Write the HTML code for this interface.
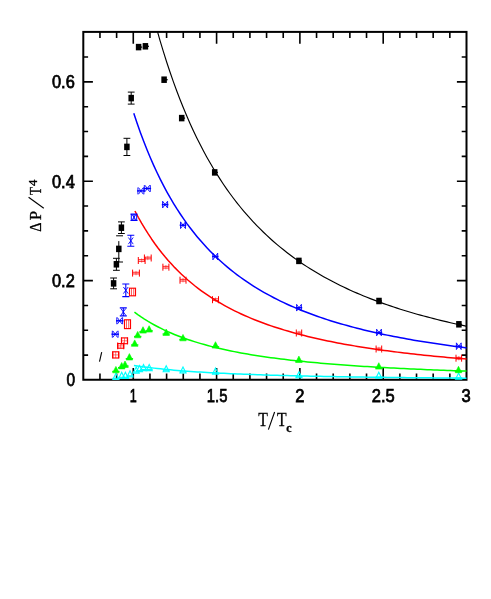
<!DOCTYPE html>
<html><head><meta charset="utf-8"><title>plot</title>
<style>
html,body{margin:0;padding:0;background:#fff;}
body{width:491px;height:599px;overflow:hidden;font-family:"Liberation Sans",sans-serif;}
svg{display:block;will-change:transform;}
text{fill:#000;}
</style></head>
<body>
<svg width="491" height="599" viewBox="0 0 491 599">
<defs><clipPath id="cp"><rect x="83.3" y="31.9" width="383.2" height="348.9"/></clipPath></defs>
<rect width="491" height="599" fill="#fff"/>
<path d="M99.96,379.75 V373.55 M99.96,31.90 V38.10 M116.62,379.75 V373.55 M116.62,31.90 V38.10 M133.28,379.75 V367.95 M133.28,31.90 V43.70 M149.94,379.75 V373.55 M149.94,31.90 V38.10 M166.60,379.75 V373.55 M166.60,31.90 V38.10 M183.27,379.75 V373.55 M183.27,31.90 V38.10 M199.93,379.75 V373.55 M199.93,31.90 V38.10 M216.59,379.75 V367.95 M216.59,31.90 V43.70 M233.25,379.75 V373.55 M233.25,31.90 V38.10 M249.91,379.75 V373.55 M249.91,31.90 V38.10 M266.57,379.75 V373.55 M266.57,31.90 V38.10 M283.23,379.75 V373.55 M283.23,31.90 V38.10 M299.89,379.75 V367.95 M299.89,31.90 V43.70 M316.55,379.75 V373.55 M316.55,31.90 V38.10 M333.21,379.75 V373.55 M333.21,31.90 V38.10 M349.87,379.75 V373.55 M349.87,31.90 V38.10 M366.53,379.75 V373.55 M366.53,31.90 V38.10 M383.20,379.75 V367.95 M383.20,31.90 V43.70 M399.86,379.75 V373.55 M399.86,31.90 V38.10 M416.52,379.75 V373.55 M416.52,31.90 V38.10 M433.18,379.75 V373.55 M433.18,31.90 V38.10 M449.84,379.75 V373.55 M449.84,31.90 V38.10 M83.30,355.15 H88.10 M466.50,355.15 H461.70 M83.30,330.31 H88.10 M466.50,330.31 H461.70 M83.30,305.46 H88.10 M466.50,305.46 H461.70 M83.30,280.61 H92.90 M466.50,280.61 H456.90 M83.30,255.77 H88.10 M466.50,255.77 H461.70 M83.30,230.92 H88.10 M466.50,230.92 H461.70 M83.30,206.07 H88.10 M466.50,206.07 H461.70 M83.30,181.23 H92.90 M466.50,181.23 H456.90 M83.30,156.38 H88.10 M466.50,156.38 H461.70 M83.30,131.54 H88.10 M466.50,131.54 H461.70 M83.30,106.69 H88.10 M466.50,106.69 H461.70 M83.30,81.84 H92.90 M466.50,81.84 H456.90 M83.30,57.00 H88.10 M466.50,57.00 H461.70" stroke="#000" stroke-width="1.6" fill="none"/>
<rect x="83.30" y="31.90" width="383.20" height="347.85" fill="none" stroke="#000" stroke-width="2"/>
<path d="M153.30,16.33 L156.64,28.64 L159.97,40.32 L163.31,51.43 L166.65,61.99 L169.99,72.05 L173.33,81.64 L176.67,90.78 L180.01,99.50 L183.35,107.83 L186.69,115.79 L190.03,123.40 L193.36,130.69 L196.70,137.66 L200.04,144.35 L203.38,150.76 L206.72,156.91 L210.06,162.81 L213.40,168.48 L216.74,173.92 L220.08,179.16 L223.42,184.20 L226.76,189.05 L230.09,193.72 L233.43,198.22 L236.77,202.56 L240.11,206.74 L243.45,210.77 L246.79,214.66 L250.13,218.42 L253.47,222.05 L256.81,225.56 L260.15,228.95 L263.48,232.23 L266.82,235.41 L270.16,238.48 L273.50,241.45 L276.84,244.33 L280.18,247.12 L283.52,249.82 L286.86,252.44 L290.20,254.99 L293.54,257.45 L296.88,259.85 L300.21,262.17 L303.55,264.42 L306.89,266.61 L310.23,268.74 L313.57,270.81 L316.91,272.82 L320.25,274.77 L323.59,276.68 L326.93,278.53 L330.27,280.33 L333.60,282.08 L336.94,283.78 L340.28,285.44 L343.62,287.06 L346.96,288.64 L350.30,290.17 L353.64,291.67 L356.98,293.13 L360.32,294.55 L363.66,295.94 L367.00,297.29 L370.33,298.62 L373.67,299.91 L377.01,301.16 L380.35,302.39 L383.69,303.59 L387.03,304.77 L390.37,305.91 L393.71,307.03 L397.05,308.12 L400.39,309.19 L403.72,310.24 L407.06,311.26 L410.40,312.26 L413.74,313.23 L417.08,314.19 L420.42,315.12 L423.76,316.04 L427.10,316.93 L430.44,317.81 L433.78,318.67 L437.12,319.51 L440.45,320.33 L443.79,321.14 L447.13,321.93 L450.47,322.70 L453.81,323.46 L457.15,324.20 L460.49,324.93 L463.83,325.65 L467.17,326.35" fill="none" stroke="#000" stroke-width="1.15" stroke-linejoin="round" clip-path="url(#cp)"/>
<path d="M133.78,113.21 L137.12,123.20 L140.45,132.64 L143.78,141.56 L147.12,150.01 L150.45,158.00 L153.79,165.59 L157.12,172.78 L160.45,179.62 L163.79,186.12 L167.12,192.31 L170.45,198.20 L173.79,203.81 L177.12,209.17 L180.46,214.28 L183.79,219.16 L187.12,223.83 L190.46,228.30 L193.79,232.57 L197.13,236.67 L200.46,240.59 L203.79,244.35 L207.13,247.97 L210.46,251.43 L213.79,254.76 L217.13,257.97 L220.46,261.04 L223.80,264.01 L227.13,266.86 L230.46,269.61 L233.80,272.25 L237.13,274.81 L240.47,277.27 L243.80,279.64 L247.13,281.93 L250.47,284.15 L253.80,286.29 L257.13,288.35 L260.47,290.35 L263.80,292.28 L267.14,294.15 L270.47,295.96 L273.80,297.72 L277.14,299.42 L280.47,301.06 L283.81,302.66 L287.14,304.20 L290.47,305.70 L293.81,307.16 L297.14,308.57 L300.47,309.94 L303.81,311.27 L307.14,312.57 L310.48,313.82 L313.81,315.04 L317.14,316.23 L320.48,317.39 L323.81,318.51 L327.15,319.60 L330.48,320.67 L333.81,321.70 L337.15,322.71 L340.48,323.69 L343.81,324.65 L347.15,325.58 L350.48,326.49 L353.82,327.37 L357.15,328.24 L360.48,329.08 L363.82,329.90 L367.15,330.70 L370.49,331.48 L373.82,332.25 L377.15,332.99 L380.49,333.72 L383.82,334.43 L387.15,335.12 L390.49,335.80 L393.82,336.46 L397.16,337.11 L400.49,337.74 L403.82,338.36 L407.16,338.97 L410.49,339.56 L413.82,340.14 L417.16,340.71 L420.49,341.26 L423.83,341.80 L427.16,342.33 L430.49,342.85 L433.83,343.36 L437.16,343.86 L440.50,344.35 L443.83,344.83 L447.16,345.29 L450.50,345.75 L453.83,346.20 L457.16,346.64 L460.50,347.08 L463.83,347.50 L467.17,347.91" fill="none" stroke="#00f" stroke-width="1.5" stroke-linejoin="round" clip-path="url(#cp)"/>
<path d="M134.95,211.02 L138.27,217.25 L141.59,223.13 L144.92,228.69 L148.24,233.96 L151.56,238.96 L154.88,243.70 L158.20,248.20 L161.53,252.48 L164.85,256.55 L168.17,260.43 L171.49,264.12 L174.81,267.65 L178.14,271.01 L181.46,274.22 L184.78,277.30 L188.10,280.23 L191.43,283.04 L194.75,285.74 L198.07,288.32 L201.39,290.79 L204.71,293.16 L208.04,295.44 L211.36,297.63 L214.68,299.74 L218.00,301.76 L221.33,303.71 L224.65,305.58 L227.97,307.38 L231.29,309.12 L234.61,310.80 L237.94,312.42 L241.26,313.98 L244.58,315.48 L247.90,316.93 L251.22,318.34 L254.55,319.70 L257.87,321.01 L261.19,322.28 L264.51,323.51 L267.84,324.69 L271.16,325.85 L274.48,326.96 L277.80,328.04 L281.12,329.09 L284.45,330.10 L287.77,331.09 L291.09,332.04 L294.41,332.97 L297.74,333.87 L301.06,334.74 L304.38,335.59 L307.70,336.42 L311.02,337.22 L314.35,338.00 L317.67,338.76 L320.99,339.49 L324.31,340.21 L327.63,340.91 L330.96,341.59 L334.28,342.25 L337.60,342.90 L340.92,343.52 L344.25,344.14 L347.57,344.73 L350.89,345.31 L354.21,345.88 L357.53,346.43 L360.86,346.97 L364.18,347.50 L367.50,348.01 L370.82,348.51 L374.15,349.00 L377.47,349.48 L380.79,349.94 L384.11,350.40 L387.43,350.84 L390.76,351.28 L394.08,351.70 L397.40,352.12 L400.72,352.53 L404.05,352.92 L407.37,353.31 L410.69,353.69 L414.01,354.06 L417.33,354.43 L420.66,354.78 L423.98,355.13 L427.30,355.47 L430.62,355.81 L433.94,356.13 L437.27,356.46 L440.59,356.77 L443.91,357.08 L447.23,357.38 L450.56,357.67 L453.88,357.96 L457.20,358.25 L460.52,358.52 L463.84,358.80 L467.17,359.06" fill="none" stroke="#f00" stroke-width="1.5" stroke-linejoin="round" clip-path="url(#cp)"/>
<path d="M134.45,312.12 L137.78,314.57 L141.10,316.88 L144.43,319.07 L147.76,321.15 L151.08,323.11 L154.41,324.98 L157.74,326.76 L161.07,328.45 L164.39,330.06 L167.72,331.59 L171.05,333.05 L174.37,334.45 L177.70,335.78 L181.03,337.06 L184.36,338.27 L187.68,339.44 L191.01,340.56 L194.34,341.63 L197.67,342.65 L200.99,343.64 L204.32,344.58 L207.65,345.49 L210.97,346.36 L214.30,347.20 L217.63,348.01 L220.96,348.78 L224.28,349.53 L227.61,350.25 L230.94,350.95 L234.26,351.62 L237.59,352.26 L240.92,352.89 L244.25,353.49 L247.57,354.07 L250.90,354.64 L254.23,355.18 L257.55,355.71 L260.88,356.22 L264.21,356.71 L267.54,357.19 L270.86,357.65 L274.19,358.10 L277.52,358.53 L280.84,358.96 L284.17,359.36 L287.50,359.76 L290.83,360.15 L294.15,360.52 L297.48,360.88 L300.81,361.24 L304.13,361.58 L307.46,361.91 L310.79,362.23 L314.12,362.55 L317.44,362.86 L320.77,363.15 L324.10,363.44 L327.43,363.73 L330.75,364.00 L334.08,364.27 L337.41,364.53 L340.73,364.79 L344.06,365.03 L347.39,365.28 L350.72,365.51 L354.04,365.74 L357.37,365.97 L360.70,366.18 L364.02,366.40 L367.35,366.61 L370.68,366.81 L374.01,367.01 L377.33,367.20 L380.66,367.39 L383.99,367.58 L387.31,367.76 L390.64,367.94 L393.97,368.11 L397.30,368.28 L400.62,368.44 L403.95,368.61 L407.28,368.76 L410.60,368.92 L413.93,369.07 L417.26,369.22 L420.59,369.36 L423.91,369.51 L427.24,369.65 L430.57,369.78 L433.89,369.92 L437.22,370.05 L440.55,370.18 L443.88,370.30 L447.20,370.42 L450.53,370.55 L453.86,370.66 L457.18,370.78 L460.51,370.89 L463.84,371.01 L467.17,371.12" fill="none" stroke="#0f0" stroke-width="1.5" stroke-linejoin="round" clip-path="url(#cp)"/>
<path d="M133.95,365.45 L137.28,365.95 L140.61,366.43 L143.95,366.89 L147.28,367.32 L150.61,367.74 L153.94,368.13 L157.27,368.50 L160.61,368.86 L163.94,369.20 L167.27,369.52 L170.60,369.83 L173.94,370.13 L177.27,370.41 L180.60,370.68 L183.93,370.94 L187.26,371.19 L190.60,371.43 L193.93,371.66 L197.26,371.88 L200.59,372.09 L203.92,372.29 L207.26,372.49 L210.59,372.68 L213.92,372.86 L217.25,373.03 L220.59,373.20 L223.92,373.36 L227.25,373.52 L230.58,373.67 L233.91,373.82 L237.25,373.96 L240.58,374.10 L243.91,374.23 L247.24,374.36 L250.58,374.48 L253.91,374.60 L257.24,374.71 L260.57,374.83 L263.90,374.94 L267.24,375.04 L270.57,375.14 L273.90,375.24 L277.23,375.34 L280.56,375.43 L283.90,375.52 L287.23,375.61 L290.56,375.70 L293.89,375.78 L297.23,375.86 L300.56,375.94 L303.89,376.01 L307.22,376.09 L310.55,376.16 L313.89,376.23 L317.22,376.30 L320.55,376.37 L323.88,376.43 L327.22,376.49 L330.55,376.56 L333.88,376.62 L337.21,376.68 L340.54,376.73 L343.88,376.79 L347.21,376.84 L350.54,376.90 L353.87,376.95 L357.20,377.00 L360.54,377.05 L363.87,377.10 L367.20,377.14 L370.53,377.19 L373.87,377.24 L377.20,377.28 L380.53,377.32 L383.86,377.36 L387.19,377.41 L390.53,377.45 L393.86,377.49 L397.19,377.52 L400.52,377.56 L403.86,377.60 L407.19,377.64 L410.52,377.67 L413.85,377.71 L417.18,377.74 L420.52,377.77 L423.85,377.81 L427.18,377.84 L430.51,377.87 L433.84,377.90 L437.18,377.93 L440.51,377.96 L443.84,377.99 L447.17,378.02 L450.51,378.04 L453.84,378.07 L457.17,378.10 L460.50,378.12 L463.83,378.15 L467.17,378.18" fill="none" stroke="#0ff" stroke-width="1.5" stroke-linejoin="round" clip-path="url(#cp)"/>
<path d="M115.90,373.30 L118.90,379.40 L112.90,379.40 Z" fill="none" stroke="#0ff" stroke-width="1.1"/>
<path d="M112.50,378.30 H119.30" stroke="#0ff" stroke-width="1.1"/>
<path d="M121.70,372.30 L124.70,378.40 L118.70,378.40 Z" fill="none" stroke="#0ff" stroke-width="1.1"/>
<path d="M118.30,377.30 H125.10" stroke="#0ff" stroke-width="1.1"/>
<path d="M125.40,372.30 L128.40,378.40 L122.40,378.40 Z" fill="none" stroke="#0ff" stroke-width="1.1"/>
<path d="M122.00,377.30 H128.80" stroke="#0ff" stroke-width="1.1"/>
<path d="M130.00,370.80 L133.00,376.90 L127.00,376.90 Z" fill="none" stroke="#0ff" stroke-width="1.1"/>
<path d="M126.60,375.80 H133.40" stroke="#0ff" stroke-width="1.1"/>
<path d="M136.20,367.00 L139.20,373.10 L133.20,373.10 Z" fill="none" stroke="#0ff" stroke-width="1.1"/>
<path d="M132.80,372.00 H139.60" stroke="#0ff" stroke-width="1.1"/>
<path d="M139.50,365.50 L142.50,371.60 L136.50,371.60 Z" fill="none" stroke="#0ff" stroke-width="1.1"/>
<path d="M136.10,370.50 H142.90" stroke="#0ff" stroke-width="1.1"/>
<path d="M143.50,364.50 L146.50,370.60 L140.50,370.60 Z" fill="none" stroke="#0ff" stroke-width="1.1"/>
<path d="M140.10,369.50 H146.90" stroke="#0ff" stroke-width="1.1"/>
<path d="M149.20,364.50 L152.20,370.60 L146.20,370.60 Z" fill="none" stroke="#0ff" stroke-width="1.1"/>
<path d="M145.80,369.50 H152.60" stroke="#0ff" stroke-width="1.1"/>
<path d="M166.20,365.70 L169.20,371.80 L163.20,371.80 Z" fill="none" stroke="#0ff" stroke-width="1.1"/>
<path d="M162.80,370.70 H169.60" stroke="#0ff" stroke-width="1.1"/>
<path d="M183.00,366.90 L186.00,373.00 L180.00,373.00 Z" fill="none" stroke="#0ff" stroke-width="1.1"/>
<path d="M179.60,371.90 H186.40" stroke="#0ff" stroke-width="1.1"/>
<path d="M215.50,368.10 L218.50,374.20 L212.50,374.20 Z" fill="none" stroke="#0ff" stroke-width="1.1"/>
<path d="M212.10,373.10 H218.90" stroke="#0ff" stroke-width="1.1"/>
<path d="M299.00,371.70 L302.00,377.80 L296.00,377.80 Z" fill="none" stroke="#0ff" stroke-width="1.1"/>
<path d="M295.60,376.70 H302.40" stroke="#0ff" stroke-width="1.1"/>
<path d="M378.80,372.20 L381.80,378.30 L375.80,378.30 Z" fill="none" stroke="#0ff" stroke-width="1.1"/>
<path d="M375.40,377.20 H382.20" stroke="#0ff" stroke-width="1.1"/>
<path d="M458.60,373.00 L461.60,379.10 L455.60,379.10 Z" fill="none" stroke="#0ff" stroke-width="1.1"/>
<path d="M455.20,378.00 H462.00" stroke="#0ff" stroke-width="1.1"/>
<path d="M115.90,366.40 L119.20,372.80 L112.60,372.80 Z" fill="#0f0" stroke="#0f0" stroke-width="0.6"/>
<path d="M112.20,371.40 H119.60" stroke="#0f0" stroke-width="1.1"/>
<path d="M121.70,362.50 L125.00,368.90 L118.40,368.90 Z" fill="#0f0" stroke="#0f0" stroke-width="0.6"/>
<path d="M118.00,367.50 H125.40" stroke="#0f0" stroke-width="1.1"/>
<path d="M125.00,361.00 L128.30,367.40 L121.70,367.40 Z" fill="#0f0" stroke="#0f0" stroke-width="0.6"/>
<path d="M121.30,366.00 H128.70" stroke="#0f0" stroke-width="1.1"/>
<path d="M129.40,353.60 L132.70,360.00 L126.10,360.00 Z" fill="#0f0" stroke="#0f0" stroke-width="0.6"/>
<path d="M125.70,358.60 H133.10" stroke="#0f0" stroke-width="1.1"/>
<path d="M134.70,339.90 L138.00,346.30 L131.40,346.30 Z" fill="#0f0" stroke="#0f0" stroke-width="0.6"/>
<path d="M131.00,344.90 H138.40" stroke="#0f0" stroke-width="1.1"/>
<path d="M137.70,331.40 L141.00,337.80 L134.40,337.80 Z" fill="#0f0" stroke="#0f0" stroke-width="0.6"/>
<path d="M134.00,336.40 H141.40" stroke="#0f0" stroke-width="1.1"/>
<path d="M143.00,326.70 L146.30,333.10 L139.70,333.10 Z" fill="#0f0" stroke="#0f0" stroke-width="0.6"/>
<path d="M139.30,331.70 H146.70" stroke="#0f0" stroke-width="1.1"/>
<path d="M149.10,325.70 L152.40,332.10 L145.80,332.10 Z" fill="#0f0" stroke="#0f0" stroke-width="0.6"/>
<path d="M145.40,330.70 H152.80" stroke="#0f0" stroke-width="1.1"/>
<path d="M166.20,329.00 L169.50,335.40 L162.90,335.40 Z" fill="#0f0" stroke="#0f0" stroke-width="0.6"/>
<path d="M162.50,334.00 H169.90" stroke="#0f0" stroke-width="1.1"/>
<path d="M183.00,334.40 L186.30,340.80 L179.70,340.80 Z" fill="#0f0" stroke="#0f0" stroke-width="0.6"/>
<path d="M179.30,339.40 H186.70" stroke="#0f0" stroke-width="1.1"/>
<path d="M215.50,341.70 L218.80,348.10 L212.20,348.10 Z" fill="#0f0" stroke="#0f0" stroke-width="0.6"/>
<path d="M211.80,346.70 H219.20" stroke="#0f0" stroke-width="1.1"/>
<path d="M298.90,356.10 L302.20,362.50 L295.60,362.50 Z" fill="#0f0" stroke="#0f0" stroke-width="0.6"/>
<path d="M295.20,361.10 H302.60" stroke="#0f0" stroke-width="1.1"/>
<path d="M378.80,362.70 L382.10,369.10 L375.50,369.10 Z" fill="#0f0" stroke="#0f0" stroke-width="0.6"/>
<path d="M375.10,367.70 H382.50" stroke="#0f0" stroke-width="1.1"/>
<path d="M458.50,366.30 L461.80,372.70 L455.20,372.70 Z" fill="#0f0" stroke="#0f0" stroke-width="0.6"/>
<path d="M454.80,371.30 H462.20" stroke="#0f0" stroke-width="1.1"/>
<rect x="112.70" y="351.80" width="6.00" height="6.20" fill="none" stroke="#f00" stroke-width="1.15"/>
<path d="M112.70,351.50 V358.30 M118.70,351.50 V358.30" stroke="#f00" stroke-width="1.1" fill="none"/>
<path d="M115.70,351.80 V358.00 M112.70,354.90 H118.70" stroke="#f00" stroke-width="0.9" stroke-opacity="0.6" fill="none"/>
<rect x="117.70" y="343.60" width="6.00" height="4.60" fill="none" stroke="#f00" stroke-width="1.15"/>
<path d="M117.70,342.50 V349.30 M123.70,342.50 V349.30" stroke="#f00" stroke-width="1.1" fill="none"/>
<path d="M120.70,343.60 V348.20 M117.70,345.90 H123.70" stroke="#f00" stroke-width="0.9" stroke-opacity="0.6" fill="none"/>
<rect x="121.50" y="337.90" width="6.00" height="5.80" fill="none" stroke="#f00" stroke-width="1.15"/>
<path d="M121.50,337.40 V344.20 M127.50,337.40 V344.20" stroke="#f00" stroke-width="1.1" fill="none"/>
<path d="M124.50,337.90 V343.70 M121.50,340.80 H127.50" stroke="#f00" stroke-width="0.9" stroke-opacity="0.6" fill="none"/>
<rect x="124.50" y="319.80" width="6.00" height="8.80" fill="none" stroke="#f00" stroke-width="1.15"/>
<path d="M126.50,319.80 V328.60 M128.70,319.80 V328.60" stroke="#f00" stroke-width="0.9" stroke-opacity="0.7" fill="none"/>
<rect x="129.50" y="288.20" width="6.00" height="7.60" fill="none" stroke="#f00" stroke-width="1.15"/>
<path d="M131.50,288.20 V295.80 M133.70,288.20 V295.80" stroke="#f00" stroke-width="0.9" stroke-opacity="0.7" fill="none"/>
<path d="M132.60,269.60 V276.60 M139.40,269.60 V276.60" stroke="#f00" stroke-width="1.0" fill="none"/>
<path d="M132.60,272.25 H139.40 M132.60,273.95 H139.40" stroke="#f00" stroke-width="0.85" fill="none"/>
<path d="M136.00,270.90 V275.30" stroke="#f00" stroke-width="0.8" stroke-opacity="0.6" fill="none"/>
<path d="M138.30,257.00 V264.00 M145.10,257.00 V264.00" stroke="#f00" stroke-width="1.0" fill="none"/>
<path d="M138.30,259.65 H145.10 M138.30,261.35 H145.10" stroke="#f00" stroke-width="0.85" fill="none"/>
<path d="M141.70,258.30 V262.70" stroke="#f00" stroke-width="0.8" stroke-opacity="0.6" fill="none"/>
<path d="M144.40,254.50 V261.50 M151.20,254.50 V261.50" stroke="#f00" stroke-width="1.0" fill="none"/>
<path d="M144.40,257.15 H151.20 M144.40,258.85 H151.20" stroke="#f00" stroke-width="0.85" fill="none"/>
<path d="M147.80,255.80 V260.20" stroke="#f00" stroke-width="0.8" stroke-opacity="0.6" fill="none"/>
<path d="M162.90,263.70 V270.70 M168.90,263.70 V270.70" stroke="#f00" stroke-width="1.0" fill="none"/>
<path d="M162.90,266.35 H168.90 M162.90,268.05 H168.90" stroke="#f00" stroke-width="0.85" fill="none"/>
<path d="M165.90,265.00 V269.40" stroke="#f00" stroke-width="0.8" stroke-opacity="0.6" fill="none"/>
<path d="M180.00,276.70 V283.70 M186.00,276.70 V283.70" stroke="#f00" stroke-width="1.0" fill="none"/>
<path d="M180.00,279.35 H186.00 M180.00,281.05 H186.00" stroke="#f00" stroke-width="0.85" fill="none"/>
<path d="M183.00,278.00 V282.40" stroke="#f00" stroke-width="0.8" stroke-opacity="0.6" fill="none"/>
<path d="M212.50,296.20 V303.20 M218.50,296.20 V303.20" stroke="#f00" stroke-width="1.0" fill="none"/>
<path d="M212.50,298.85 H218.50 M212.50,300.55 H218.50" stroke="#f00" stroke-width="0.85" fill="none"/>
<path d="M215.50,297.50 V301.90" stroke="#f00" stroke-width="0.8" stroke-opacity="0.6" fill="none"/>
<path d="M296.30,329.50 V336.50 M301.70,329.50 V336.50" stroke="#f00" stroke-width="1.0" fill="none"/>
<path d="M296.30,332.15 H301.70 M296.30,333.85 H301.70" stroke="#f00" stroke-width="0.85" fill="none"/>
<path d="M299.00,330.80 V335.20" stroke="#f00" stroke-width="0.8" stroke-opacity="0.6" fill="none"/>
<path d="M376.10,345.50 V352.50 M381.70,345.50 V352.50" stroke="#f00" stroke-width="1.0" fill="none"/>
<path d="M376.10,348.15 H381.70 M376.10,349.85 H381.70" stroke="#f00" stroke-width="0.85" fill="none"/>
<path d="M378.90,346.80 V351.20" stroke="#f00" stroke-width="0.8" stroke-opacity="0.6" fill="none"/>
<path d="M456.00,354.70 V361.70 M461.60,354.70 V361.70" stroke="#f00" stroke-width="1.0" fill="none"/>
<path d="M456.00,357.35 H461.60 M456.00,359.05 H461.60" stroke="#f00" stroke-width="0.85" fill="none"/>
<path d="M458.80,356.00 V360.40" stroke="#f00" stroke-width="0.8" stroke-opacity="0.6" fill="none"/>
<path d="M112.80,330.90 L117.60,337.50 M117.60,330.90 L112.80,337.50" stroke="#00f" stroke-width="0.9" fill="none"/>
<path d="M111.50,334.20 H118.90" stroke="#00f" stroke-width="1.5"/>
<path d="M112.30,330.80 V337.60 M118.10,330.80 V337.60" stroke="#00f" stroke-width="0.9" fill="none"/>
<path d="M117.30,317.50 L122.10,324.10 M122.10,317.50 L117.30,324.10" stroke="#00f" stroke-width="0.9" fill="none"/>
<path d="M116.00,320.80 H123.40" stroke="#00f" stroke-width="1.5"/>
<path d="M116.80,317.40 V324.20 M122.60,317.40 V324.20" stroke="#00f" stroke-width="0.9" fill="none"/>
<path d="M123.30,307.90 V315.90 M119.80,307.90 H126.80 M119.80,315.90 H126.80" stroke="#00f" stroke-width="1.1" fill="none"/>
<path d="M120.90,308.60 L125.70,315.20 M125.70,308.60 L120.90,315.20" stroke="#00f" stroke-width="0.9" fill="none"/>
<path d="M125.80,284.00 V296.60 M122.30,284.00 H129.30 M122.30,296.60 H129.30" stroke="#00f" stroke-width="1.1" fill="none"/>
<path d="M123.40,287.00 L128.20,293.60 M128.20,287.00 L123.40,293.60" stroke="#00f" stroke-width="0.9" fill="none"/>
<path d="M130.80,235.30 V246.30 M127.30,235.30 H134.30 M127.30,246.30 H134.30" stroke="#00f" stroke-width="1.1" fill="none"/>
<path d="M128.40,237.50 L133.20,244.10 M133.20,237.50 L128.40,244.10" stroke="#00f" stroke-width="0.9" fill="none"/>
<path d="M134.00,214.10 V220.50 M130.50,214.10 H137.50 M130.50,220.50 H137.50" stroke="#00f" stroke-width="1.1" fill="none"/>
<path d="M131.30,214.00 V220.60 M136.70,214.00 V220.60" stroke="#00f" stroke-width="1" fill="none"/>
<path d="M131.60,214.00 L136.40,220.60 M136.40,214.00 L131.60,220.60" stroke="#00f" stroke-width="0.9" fill="none"/>
<path d="M138.50,187.60 L143.30,194.20 M143.30,187.60 L138.50,194.20" stroke="#00f" stroke-width="0.9" fill="none"/>
<path d="M137.10,190.90 H144.70" stroke="#00f" stroke-width="1.5"/>
<path d="M137.90,187.50 V194.30 M143.90,187.50 V194.30" stroke="#00f" stroke-width="0.9" fill="none"/>
<path d="M144.90,185.20 L149.70,191.80 M149.70,185.20 L144.90,191.80" stroke="#00f" stroke-width="0.9" fill="none"/>
<path d="M143.50,188.50 H151.10" stroke="#00f" stroke-width="1.5"/>
<path d="M144.30,185.10 V191.90 M150.30,185.10 V191.90" stroke="#00f" stroke-width="0.9" fill="none"/>
<path d="M162.70,201.30 L167.50,207.90 M167.50,201.30 L162.70,207.90" stroke="#00f" stroke-width="0.9" fill="none"/>
<path d="M161.80,204.60 H168.40" stroke="#00f" stroke-width="1.5"/>
<path d="M162.60,201.20 V208.00 M167.60,201.20 V208.00" stroke="#00f" stroke-width="0.9" fill="none"/>
<path d="M180.60,221.90 L185.40,228.50 M185.40,221.90 L180.60,228.50" stroke="#00f" stroke-width="0.9" fill="none"/>
<path d="M179.70,225.20 H186.30" stroke="#00f" stroke-width="1.5"/>
<path d="M180.50,221.80 V228.60 M185.50,221.80 V228.60" stroke="#00f" stroke-width="0.9" fill="none"/>
<path d="M212.90,253.20 L217.70,259.80 M217.70,253.20 L212.90,259.80" stroke="#00f" stroke-width="0.9" fill="none"/>
<path d="M212.10,256.50 H218.50" stroke="#00f" stroke-width="1.5"/>
<path d="M212.90,253.10 V259.90 M217.70,253.10 V259.90" stroke="#00f" stroke-width="0.9" fill="none"/>
<path d="M296.60,304.40 L301.40,311.00 M301.40,304.40 L296.60,311.00" stroke="#00f" stroke-width="0.9" fill="none"/>
<path d="M295.80,307.70 H302.20" stroke="#00f" stroke-width="1.5"/>
<path d="M296.60,304.30 V311.10 M301.40,304.30 V311.10" stroke="#00f" stroke-width="0.9" fill="none"/>
<path d="M376.60,329.20 L381.40,335.80 M381.40,329.20 L376.60,335.80" stroke="#00f" stroke-width="0.9" fill="none"/>
<path d="M375.80,332.50 H382.20" stroke="#00f" stroke-width="1.5"/>
<path d="M376.60,329.10 V335.90 M381.40,329.10 V335.90" stroke="#00f" stroke-width="0.9" fill="none"/>
<path d="M456.40,342.90 L461.20,349.50 M461.20,342.90 L456.40,349.50" stroke="#00f" stroke-width="0.9" fill="none"/>
<path d="M455.60,346.20 H462.00" stroke="#00f" stroke-width="1.5"/>
<path d="M456.40,342.80 V349.60 M461.20,342.80 V349.60" stroke="#00f" stroke-width="0.9" fill="none"/>
<path d="M113.60,278.00 V288.80 M110.20,278.00 H117.00 M110.20,288.80 H117.00" stroke="#000" stroke-width="1" fill="none"/>
<rect x="110.85" y="280.15" width="5.5" height="6.5" fill="#000"/>
<path d="M116.40,258.30 V270.30 M113.00,258.30 H119.80 M113.00,270.30 H119.80" stroke="#000" stroke-width="1" fill="none"/>
<rect x="113.65" y="261.05" width="5.5" height="6.5" fill="#000"/>
<path d="M118.80,241.10 V262.00 M116.10,235.80 H123.00 M115.40,262.00 H123.00" stroke="#000" stroke-width="1" fill="none"/>
<rect x="116.05" y="245.65" width="5.5" height="6.5" fill="#000"/>
<path d="M121.40,221.90 V233.50 M118.00,221.90 H124.80 M118.00,233.50 H124.80" stroke="#000" stroke-width="1" fill="none"/>
<rect x="118.65" y="224.45" width="5.5" height="6.5" fill="#000"/>
<path d="M126.90,138.30 V155.50 M123.50,138.30 H130.30 M123.50,155.50 H130.30" stroke="#000" stroke-width="1" fill="none"/>
<rect x="124.15" y="143.65" width="5.5" height="6.5" fill="#000"/>
<path d="M131.20,92.10 V104.10 M127.80,92.10 H134.60 M127.80,104.10 H134.60" stroke="#000" stroke-width="1" fill="none"/>
<rect x="128.45" y="94.85" width="5.5" height="6.5" fill="#000"/>
<path d="M138.60,47.10 H142.20" stroke="#000" stroke-width="1.2"/>
<rect x="135.85" y="43.85" width="5.5" height="6.5" fill="#000"/>
<path d="M145.40,46.30 H149.00" stroke="#000" stroke-width="1.2"/>
<rect x="142.65" y="43.05" width="5.5" height="6.5" fill="#000"/>
<path d="M164.10,79.70 H167.70" stroke="#000" stroke-width="1.2"/>
<rect x="161.35" y="76.45" width="5.5" height="6.5" fill="#000"/>
<path d="M181.70,118.10 H185.10" stroke="#000" stroke-width="1.2"/>
<rect x="178.95" y="114.85" width="5.5" height="6.5" fill="#000"/>
<path d="M214.70,172.40 H217.90" stroke="#000" stroke-width="1.2"/>
<rect x="211.95" y="169.15" width="5.5" height="6.5" fill="#000"/>
<path d="M298.90,260.90 H301.90" stroke="#000" stroke-width="1.2"/>
<rect x="296.15" y="257.65" width="5.5" height="6.5" fill="#000"/>
<path d="M379.00,301.00 H382.00" stroke="#000" stroke-width="1.2"/>
<rect x="376.25" y="297.75" width="5.5" height="6.5" fill="#000"/>
<path d="M458.90,324.30 H461.90" stroke="#000" stroke-width="1.2"/>
<rect x="456.15" y="321.05" width="5.5" height="6.5" fill="#000"/>
<path d="M101.7,352.2 L99.5,361.6" stroke="#000" stroke-width="1.1"/>
<text x="52.00" y="88.19" font-size="18.4" text-anchor="start" font-family="Liberation Sans, sans-serif" stroke="#000" stroke-width="0.75" textLength="22.80" lengthAdjust="spacingAndGlyphs">0.6</text>
<text x="52.00" y="187.58" font-size="18.4" text-anchor="start" font-family="Liberation Sans, sans-serif" stroke="#000" stroke-width="0.75" textLength="22.80" lengthAdjust="spacingAndGlyphs">0.4</text>
<text x="52.00" y="286.96" font-size="18.4" text-anchor="start" font-family="Liberation Sans, sans-serif" stroke="#000" stroke-width="0.75" textLength="22.80" lengthAdjust="spacingAndGlyphs">0.2</text>
<text x="66.50" y="386.00" font-size="18.4" text-anchor="start" font-family="Liberation Sans, sans-serif" stroke="#000" stroke-width="0.75" textLength="8.60" lengthAdjust="spacingAndGlyphs">0</text>
<path d="M69.4,187.1 H73.8" stroke="#000" stroke-width="1.3"/>
<text x="129.80" y="402.40" font-size="18.4" text-anchor="start" font-family="Liberation Sans, sans-serif" stroke="#000" stroke-width="0.75" textLength="7.00" lengthAdjust="spacingAndGlyphs">1</text>
<text x="206.80" y="402.40" font-size="18.4" text-anchor="start" font-family="Liberation Sans, sans-serif" stroke="#000" stroke-width="0.75" textLength="20.60" lengthAdjust="spacingAndGlyphs">1.5</text>
<text x="295.20" y="402.40" font-size="18.4" text-anchor="start" font-family="Liberation Sans, sans-serif" stroke="#000" stroke-width="0.75" textLength="9.20" lengthAdjust="spacingAndGlyphs">2</text>
<text x="371.70" y="402.40" font-size="18.4" text-anchor="start" font-family="Liberation Sans, sans-serif" stroke="#000" stroke-width="0.75" textLength="23.00" lengthAdjust="spacingAndGlyphs">2.5</text>
<text x="461.60" y="402.40" font-size="18.4" text-anchor="start" font-family="Liberation Sans, sans-serif" stroke="#000" stroke-width="0.75" textLength="9.20" lengthAdjust="spacingAndGlyphs">3</text>
<text x="258.20" y="426.40" font-size="18.6" text-anchor="start" font-family="Liberation Serif, serif" stroke="#000" stroke-width="0.3" textLength="9.60" lengthAdjust="spacingAndGlyphs">T</text>
<path d="M274.6,412.0 L268.4,429.6" stroke="#000" stroke-width="1.1"/>
<text x="276.90" y="426.40" font-size="18.6" text-anchor="start" font-family="Liberation Serif, serif" stroke="#000" stroke-width="0.3" textLength="9.60" lengthAdjust="spacingAndGlyphs">T</text>
<text x="286.30" y="431.70" font-size="11.5" text-anchor="start" font-family="Liberation Serif, serif" stroke="#000" stroke-width="0.3" font-weight="bold" textLength="5.30" lengthAdjust="spacingAndGlyphs">c</text>
<g transform="translate(41.0,231.8) rotate(-90)">
<text x="0.00" y="0.00" font-size="16.5" text-anchor="start" font-family="Liberation Serif, serif" stroke="#000" stroke-width="0.3" textLength="9.20" lengthAdjust="spacingAndGlyphs">Δ</text>
<text x="11.50" y="0.00" font-size="16.5" text-anchor="start" font-family="Liberation Serif, serif" stroke="#000" stroke-width="0.3" textLength="9.40" lengthAdjust="spacingAndGlyphs">P</text>
<path d="M23.6,2.8 L34.6,-12.4" stroke="#000" stroke-width="1.1"/>
<text x="36.80" y="0.00" font-size="16.5" text-anchor="start" font-family="Liberation Serif, serif" stroke="#000" stroke-width="0.3" textLength="8.00" lengthAdjust="spacingAndGlyphs">T</text>
<text x="45.90" y="-4.20" font-size="12" text-anchor="start" font-family="Liberation Serif, serif" stroke="#000" stroke-width="0.3" textLength="6.40" lengthAdjust="spacingAndGlyphs">4</text>
</g>
</svg>
</body></html>
